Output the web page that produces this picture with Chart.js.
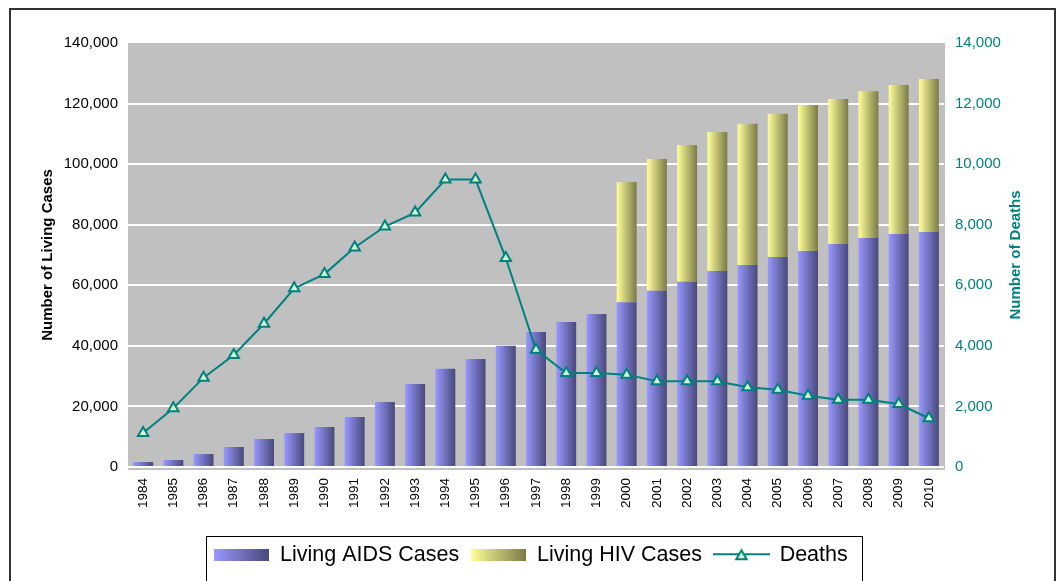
<!DOCTYPE html>
<html>
<head>
<meta charset="utf-8">
<script src="https://cdn.jsdelivr.net/npm/chart.js@4.4.1/dist/chart.umd.min.js"></script>
<style>
html,body{margin:0;padding:0;background:#fff;}
#wrap{width:1062px;height:581px;position:relative;}
</style>
</head>
<body>
<div id="wrap"><canvas id="c" width="1062" height="581"></canvas></div>
<script>
const years = ['1984','1985','1986','1987','1988','1989','1990','1991','1992','1993','1994','1995','1996','1997','1998','1999','2000','2001','2002','2003','2004','2005','2006','2007','2008','2009','2010'];
const livingAIDS = [1650, 2300, 4300, 6600, 9250, 11200, 13200, 16500, 21500, 27400, 32400, 35700, 40000, 44600, 47900, 50500, 54400, 58200, 61200, 64700, 66700, 69300, 71300, 73600, 75600, 76900, 77600];
const livingHIV = [null, null, null, null, null, null, null, null, null, null, null, null, null, null, null, null, 39700, 43500, 45100, 45900, 46600, 47300, 48200, 47900, 48500, 49200, 50500];
const deaths = [1120, 1940, 2950, 3700, 4730, 5900, 6370, 7250, 7940, 8400, 9490, 9490, 6900, 3870, 3100, 3100, 3050, 2830, 2830, 2830, 2630, 2550, 2350, 2220, 2220, 2080, 1610];
const leftTicks = [0, 20000, 40000, 60000, 80000, 100000, 120000, 140000];
const rightTicks = [0, 2000, 4000, 6000, 8000, 10000, 12000, 14000];
const seriesNames = ['Living AIDS Cases', 'Living HIV Cases', 'Deaths'];
const leftTitle = 'Number of Living Cases';
const rightTitle = 'Number of Deaths';

const FONT = "'Liberation Sans', Arial, sans-serif";
const TEAL = '#008080';
const AIDS_C = ['#9999ff', '#48487a'];
const HIV_C = ['#ffff99', '#7a7a48'];
const BAR_PCT = 0.66;

function barGradient(cols) {
  return (ctx) => {
    const chart = ctx.chart;
    const x = chart.scales && chart.scales.x;
    if (!x || ctx.type !== 'data' || !x.width) return cols[0];
    const cx = x.getPixelForValue(ctx.dataIndex);
    const w = (x.width / years.length) * BAR_PCT;
    const g = chart.ctx.createLinearGradient(cx - w / 2, 0, cx + w / 2, 0);
    g.addColorStop(0, cols[0]);
    g.addColorStop(1, cols[1]);
    return g;
  };
}

function patch(cols) {
  const cv = document.createElement('canvas');
  cv.width = 55; cv.height = 12;
  const g = cv.getContext('2d');
  const gr = g.createLinearGradient(0, 0, 55, 0);
  gr.addColorStop(0, cols[0]); gr.addColorStop(1, cols[1]);
  g.fillStyle = gr; g.fillRect(0, 0, 55, 12);
  return cv;
}
function lineSym() {
  const cv = document.createElement('canvas');
  cv.width = 57; cv.height = 18;
  const g = cv.getContext('2d');
  g.strokeStyle = TEAL; g.lineWidth = 2;
  g.beginPath(); g.moveTo(0, 8); g.lineTo(57, 8); g.stroke();
  const cx = 28.5, cy = 10, r = 6;
  g.beginPath();
  g.moveTo(cx, cy - r);
  g.lineTo(cx + r * Math.sin(2 * Math.PI / 3), cy - r * Math.cos(2 * Math.PI / 3));
  g.lineTo(cx + r * Math.sin(4 * Math.PI / 3), cy - r * Math.cos(4 * Math.PI / 3));
  g.closePath();
  g.fillStyle = '#ccffcc'; g.fill();
  g.strokeStyle = TEAL; g.lineWidth = 2; g.stroke();
  return cv;
}
const legendSyms = [patch(AIDS_C), patch(HIV_C), lineSym()];

const decor = {
  id: 'decor',
  beforeDraw(chart) {
    const {ctx, chartArea: a} = chart;
    ctx.save();
    ctx.fillStyle = '#ffffff';
    ctx.fillRect(0, 0, chart.width, chart.height);
    ctx.fillStyle = '#c0c0c0';
    ctx.fillRect(a.left, a.top, a.right - a.left + 1, a.bottom - a.top + 3);
    ctx.restore();
  },
  afterDraw(chart) {
    const {ctx, chartArea: a} = chart;
    ctx.save();
    // outer frame
    ctx.strokeStyle = '#333333';
    ctx.lineWidth = 2;
    ctx.strokeRect(10, 9, 1045, 700);
    // legend frame
    const lg = chart.legend;
    if (lg && lg.legendHitBoxes && lg.legendHitBoxes.length) {
      const hb = lg.legendHitBoxes;
      const l = hb[0].left - 8;
      const last = hb[hb.length - 1];
      const r = last.left + last.width + 14;
      ctx.strokeStyle = '#000000';
      ctx.lineWidth = 1;
      ctx.strokeRect(Math.round(l) + 0.5, 536.5, Math.round(r - l), 100);
    }
    // right axis title
    ctx.translate(1016, (a.top + a.bottom) / 2);
    ctx.rotate(-Math.PI / 2);
    ctx.font = "bold 15px " + FONT;
    ctx.fillStyle = TEAL;
    ctx.textAlign = 'center';
    ctx.textBaseline = 'middle';
    ctx.fillText(rightTitle, 0, 0);
    ctx.restore();
  }
};

new Chart(document.getElementById('c'), {
  data: {
    labels: years,
    datasets: [
      {
        type: 'line', label: seriesNames[2], data: deaths, yAxisID: 'y1', order: 0,
        borderColor: TEAL, borderWidth: 2, pointStyle: 'triangle', pointRadius: 6,
        pointBackgroundColor: '#ccffcc', pointBorderColor: TEAL, pointBorderWidth: 2,
        tension: 0, fill: false
      },
      {
        type: 'bar', label: seriesNames[0], data: livingAIDS, yAxisID: 'y', order: 1,
        backgroundColor: barGradient(AIDS_C), borderWidth: 0,
        barPercentage: BAR_PCT, categoryPercentage: 1, stack: 's'
      },
      {
        type: 'bar', label: seriesNames[1], data: livingHIV, yAxisID: 'y', order: 1,
        backgroundColor: barGradient(HIV_C), borderWidth: 0,
        barPercentage: BAR_PCT, categoryPercentage: 1, stack: 's'
      }
    ]
  },
  options: {
    responsive: false,
    animation: false,
    devicePixelRatio: 1,
    layout: { padding: { left: 0, right: 0, top: 43, bottom: 5 } },
    plugins: {
      tooltip: { enabled: false },
      legend: {
        position: 'bottom',
        labels: {
          usePointStyle: true,
          pointStyleWidth: 55,
          padding: 12,
          color: '#000',
          font: { family: FONT, size: 21.5 },
          generateLabels: () => [
            { text: seriesNames[0], pointStyle: legendSyms[0], fillStyle: AIDS_C[0], strokeStyle: 'rgba(0,0,0,0)', lineWidth: 0, hidden: false, datasetIndex: 1, fontColor: '#000' },
            { text: seriesNames[1], pointStyle: legendSyms[1], fillStyle: HIV_C[0], strokeStyle: 'rgba(0,0,0,0)', lineWidth: 0, hidden: false, datasetIndex: 2, fontColor: '#000' },
            { text: seriesNames[2], pointStyle: legendSyms[2], fillStyle: TEAL, strokeStyle: 'rgba(0,0,0,0)', lineWidth: 0, hidden: false, datasetIndex: 0, fontColor: '#000' }
          ]
        }
      }
    },
    scales: {
      x: {
        stacked: true,
        offset: true,
        grid: { display: false, drawTicks: false },
        border: { display: false },
        ticks: {
          autoSkip: false, maxRotation: 90, minRotation: 90, padding: 11,
          color: '#000', font: { family: FONT, size: 13.5 }
        },
        afterFit: (s) => { s.height = 532 - 467 + 0.5; }
      },
      y: {
        position: 'left',
        stacked: true,
        min: 0, max: 140000,
        afterBuildTicks: (s) => { s.ticks = leftTicks.map(v => ({ value: v })); },
        grid: {
          drawTicks: false,
          color: (c) => (c.tick && c.tick.value === 140000) ? 'rgba(0,0,0,0)' : '#ffffff',
          lineWidth: 2
        },
        border: { display: false },
        ticks: {
          padding: 10, color: '#000', font: { family: FONT, size: 15 },
          callback: (v) => Number(v).toLocaleString('en-US')
        },
        title: {
          display: true, text: leftTitle, color: '#000',
          font: { family: FONT, size: 15, weight: 'bold' },
          padding: { top: 39, bottom: 0 }
        },
        afterFit: (s) => { s.width = 128; }
      },
      y1: {
        position: 'right',
        min: 0, max: 14000,
        afterBuildTicks: (s) => { s.ticks = rightTicks.map(v => ({ value: v })); },
        grid: { drawOnChartArea: false, drawTicks: false },
        border: { display: false },
        ticks: {
          padding: 11, color: TEAL, font: { family: FONT, size: 15 },
          callback: (v) => Number(v).toLocaleString('en-US')
        },
        afterFit: (s) => { s.width = 118; }
      }
    }
  },
  plugins: [decor]
});
</script>
</body>
</html>
